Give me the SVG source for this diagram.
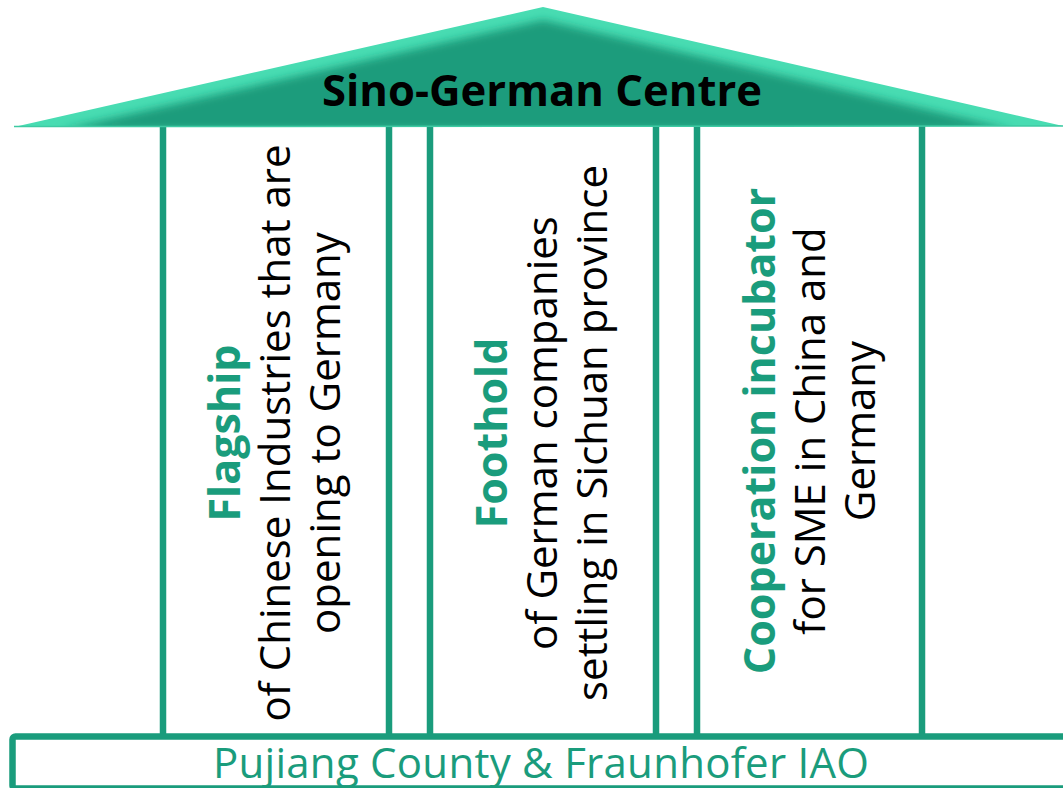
<svg xmlns="http://www.w3.org/2000/svg" width="1063" height="788" viewBox="0 0 1063 788">
  <defs>
    <clipPath id="roofClip">
      <polygon points="14,127 543,7 1063,126"/>
    </clipPath>
    <filter id="blur" x="-5%" y="-20%" width="110%" height="140%">
      <feGaussianBlur stdDeviation="4"/>
    </filter>
  </defs>
  <style>
    .col { fill: #ffffff; stroke: #1a9c7c; stroke-width: 6.5; }
    .t { font-family: "Open Sans", "Noto Sans", "DejaVu Sans", sans-serif; font-size: 42px; fill: #000000; text-anchor: middle; }
    .b { font-weight: bold; font-size: 43px; fill: #1a9c7c; }
  </style>
  <rect width="1063" height="788" fill="#ffffff"/>

  <g id="pillar-flagship">
    <rect class="col" x="163" y="120" width="226" height="620"/>
    <g transform="translate(276,433) rotate(-90)">
      <text class="t b" x="0" y="-36">Flagship</text>
      <text class="t" x="0" y="14">of Chinese Industries that are</text>
      <text class="t" x="0" y="64">opening to Germany</text>
    </g>
  </g>

  <g id="pillar-foothold">
    <rect class="col" x="430" y="120" width="226" height="620"/>
    <g transform="translate(543,433) rotate(-90)">
      <text class="t b" x="0" y="-36">Foothold</text>
      <text class="t" x="0" y="14">of German companies</text>
      <text class="t" x="0" y="64">settling in Sichuan province</text>
    </g>
  </g>

  <g id="pillar-cooperation">
    <rect class="col" x="697" y="120" width="225" height="620"/>
    <g transform="translate(810,431) rotate(-90)">
      <text class="t b" x="0" y="-35">Cooperation incubator</text>
      <text class="t" x="0" y="15">for SME in China and</text>
      <text class="t" x="0" y="65">Germany</text>
    </g>
  </g>

  <g id="base">
    <rect x="12.5" y="736.5" width="1060" height="52" rx="3" fill="#ffffff" stroke="#1a9c7c" stroke-width="6.5"/>
    <text class="t" x="541" y="778" style="fill:#1a9c7c" textLength="656">Pujiang County &amp; Fraunhofer IAO</text>
  </g>

  <g id="roof">
    <polygon points="14,127 543,7 1063,126" fill="#48dcb2"/>
    <g clip-path="url(#roofClip)">
      <polygon points="60,130 543,20 1015,130" fill="#1a9c7c" filter="url(#blur)"/>
    </g>
    <line x1="14" y1="126.5" x2="1063" y2="126" stroke="#3ecaa3" stroke-width="1.5"/>
    <text x="542" y="106" font-family="'Open Sans', 'Noto Sans', 'DejaVu Sans', sans-serif" font-size="43" font-weight="bold" fill="#000000" text-anchor="middle" textLength="440" lengthAdjust="spacingAndGlyphs">Sino-German Centre</text>
  </g>

  <g id="connectors"></g>
</svg>
